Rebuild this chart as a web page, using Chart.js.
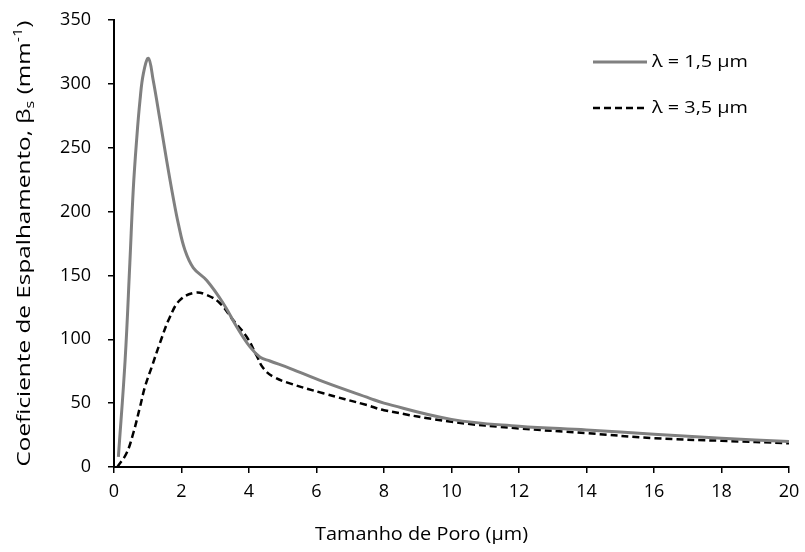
<!DOCTYPE html>
<html>
<head>
<meta charset="utf-8">
<script src="https://cdn.jsdelivr.net/npm/chart.js@4/dist/chart.umd.min.js"></script>
<style>
  html, body { margin: 0; padding: 0; background: #fff; }
  #wrap { width: 805px; height: 552px; position: relative; }
</style>
</head>
<body>
<div id="wrap"><canvas id="c" width="805" height="552"></canvas></div>
<script>
// ---- Data ----
const seriesLabels = ['λ = 1,5 μm', 'λ = 3,5 μm'];

const x15 = [0.13, 0.33, 0.47, 0.57, 0.67, 0.77, 0.87, 1.02, 1.16, 1.36, 1.56, 1.76, 1.91, 2.1, 2.35, 2.75, 3.24, 3.63, 4.03, 4.33, 4.62, 5.21, 6.2, 7.58, 8, 10, 12, 14, 16, 18, 20];
const y15 = [8, 84, 160, 217, 256, 287, 308, 320, 303, 272, 240, 210, 190, 170, 156, 146, 128, 110, 94, 86, 83, 77.3, 66.8, 53.8, 50, 37.3, 32, 29, 25.7, 22.6, 19.9];

const x35 = [0.1, 0.37, 0.57, 0.77, 0.92, 1.12, 1.36, 1.66, 1.96, 2.4, 2.75, 3.14, 3.53, 3.93, 4.23, 4.42, 4.72, 5.21, 6.2, 7.49, 8, 10, 12, 14, 16, 18, 20];
const y35 = [0, 10.7, 26.4, 47, 63, 78.5, 97, 117.7, 130.8, 136.5, 134.7, 128.2, 115, 102, 87, 77.5, 70.7, 65.5, 57.7, 48.5, 44.5, 35.4, 30.2, 26.5, 22.6, 20.5, 18.6];

const xTicks = [0, 2, 4, 6, 8, 10, 12, 14, 16, 18, 20];
const yTicks = [0, 50, 100, 150, 200, 250, 300, 350];

const xTitle = 'Tamanho de Poro (μm)';
const yTitleParts = [
  { t: 'Coeficiente de Espalhamento, β', k: 'n' },
  { t: 's', k: 'sub' },
  { t: ' (mm', k: 'n' },
  { t: '-1', k: 'sup' },
  { t: ')', k: 'n' }
];

const FONT = '"Open Sans", "DejaVu Sans", sans-serif';

function pts(xs, ys) { return xs.map((x, i) => ({ x: x, y: ys[i] })); }

function fitText(ctx, text, x, y, targetW) {
  const w = ctx.measureText(text).width;
  const s = targetW / w;
  ctx.save();
  ctx.translate(x, y);
  ctx.scale(s, 1);
  ctx.fillText(text, 0, 0);
  ctx.restore();
}

const legendPlugin = {
  id: 'customLegend',
  afterDraw(chart) {
    const ctx = chart.ctx;
    const ca = chart.chartArea;
    const x0 = ca.right - 196, x1 = ca.right - 142, tx = ca.right - 137;
    const ys = [ca.top + 42, ca.top + 88];
    chart.data.datasets.forEach((ds, i) => {
      ctx.save();
      ctx.strokeStyle = ds.borderColor;
      ctx.lineWidth = ds.borderWidth;
      ctx.setLineDash(ds.borderDash || []);
      ctx.beginPath();
      ctx.moveTo(x0, ys[i]);
      ctx.lineTo(x1, ys[i]);
      ctx.stroke();
      ctx.setLineDash([]);
      ctx.fillStyle = '#000';
      ctx.font = '17px ' + FONT;
      ctx.textBaseline = 'middle';
      ctx.textAlign = 'left';
      fitText(ctx, ds.label, tx, ys[i], 96);
      ctx.restore();
    });
  }
};

const titlesPlugin = {
  id: 'titles',
  afterDraw(chart) {
    const ctx = chart.ctx;
    const ca = chart.chartArea;
    // x title
    ctx.save();
    ctx.fillStyle = '#000';
    ctx.font = '18px ' + FONT;
    ctx.textBaseline = 'middle';
    ctx.textAlign = 'left';
    fitText(ctx, xTitle, 315, 535, 213);
    ctx.restore();

    // y title with subscript / superscript
    const big = '18px ' + FONT, small = '12px ' + FONT;
    ctx.save();
    let total = 0;
    yTitleParts.forEach(p => {
      ctx.font = p.k === 'n' ? big : small;
      p.w = ctx.measureText(p.t).width;
      total += p.w;
    });
    const target = 446;
    const s = target / total;
    ctx.translate(30, (ca.top + ca.bottom) / 2);
    ctx.rotate(-Math.PI / 2);
    ctx.scale(s, 1);
    ctx.fillStyle = '#000';
    ctx.textBaseline = 'alphabetic';
    ctx.textAlign = 'left';
    let x = -total / 2;
    yTitleParts.forEach(p => {
      ctx.font = p.k === 'n' ? big : small;
      let dy = 0;
      if (p.k === 'sub') dy = 4;
      if (p.k === 'sup') dy = -8;
      ctx.fillText(p.t, x, dy);
      x += p.w;
    });
    ctx.restore();
  }
};

new Chart(document.getElementById('c'), {
  type: 'line',
  data: {
    datasets: [
      {
        label: seriesLabels[0],
        data: pts(x15, y15),
        borderColor: '#808080',
        borderWidth: 3,
        pointRadius: 0,
        fill: false,
        tension: 0.4
      },
      {
        label: seriesLabels[1],
        data: pts(x35, y35),
        borderColor: '#000000',
        borderWidth: 2.5,
        borderDash: [7, 4],
        pointRadius: 0,
        fill: false,
        tension: 0.4
      }
    ]
  },
  options: {
    responsive: false,
    animation: false,
    layout: { padding: { top: 20, right: 16, left: 0, bottom: 0 } },
    plugins: {
      legend: { display: false },
      tooltip: { enabled: false }
    },
    scales: {
      x: {
        type: 'linear',
        min: 0, max: 20,
        afterBuildTicks(scale) { scale.ticks = xTicks.map(v => ({ value: v })); },
        afterFit(scale) { scale.height = 85; scale.paddingLeft = 0; scale.paddingRight = 0; },
        grid: { display: true, drawOnChartArea: false, drawTicks: true, tickLength: 6, color: '#000', lineWidth: 1.5 },
        border: { display: true, color: '#000', width: 2 },
        ticks: { color: '#000', font: { family: FONT, size: 18 }, padding: 8, maxRotation: 0 },
        title: { display: false }
      },
      y: {
        type: 'linear',
        min: 0, max: 350,
        afterBuildTicks(scale) { scale.ticks = yTicks.map(v => ({ value: v })); },
        afterFit(scale) { scale.width = 114; scale.paddingTop = 0; scale.paddingBottom = 0; },
        grid: { display: true, drawOnChartArea: false, drawTicks: true, tickLength: 6, color: '#000', lineWidth: 1.5 },
        border: { display: true, color: '#000', width: 2 },
        ticks: { color: '#000', font: { family: FONT, size: 18 }, padding: 17 }
      }
    }
  },
  plugins: [legendPlugin, titlesPlugin]
});
</script>
</body>
</html>
